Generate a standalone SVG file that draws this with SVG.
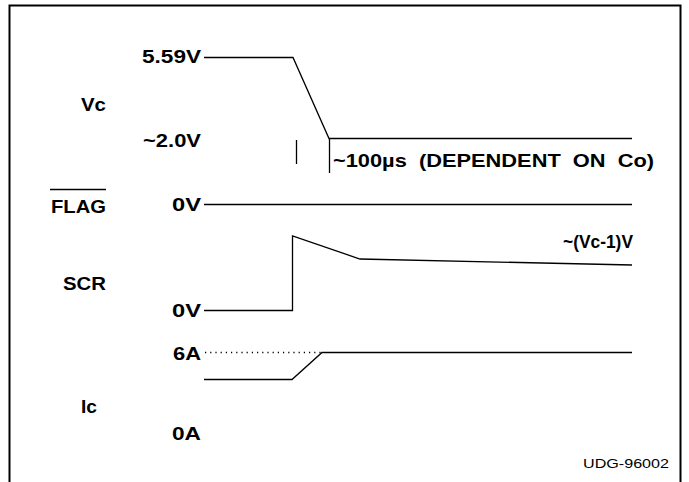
<svg xmlns="http://www.w3.org/2000/svg" width="689" height="482" viewBox="0 0 689 482">
<style>
.lbl{font-family:"Liberation Sans",Arial,sans-serif;font-weight:bold;font-size:18px;fill:#000}
.r{text-anchor:end}
.w{fill:none;stroke:#000;stroke-width:1.3}
.note{font-family:"Liberation Sans",Arial,sans-serif;font-size:13.5px;fill:#000}
</style>
<rect width="689" height="482" fill="#fff"/>
<path d="M9.5,483 V5.5 H680.5 V483" fill="none" stroke="#000" stroke-width="2"/>
<g id="labels">
<text class="lbl r" x="201" y="63" textLength="59" lengthAdjust="spacingAndGlyphs">5.59V</text>
<text class="lbl r" x="106" y="111" textLength="25" lengthAdjust="spacingAndGlyphs">Vc</text>
<text class="lbl r" x="201" y="147" textLength="58" lengthAdjust="spacingAndGlyphs">~2.0V</text>
<text class="lbl r" x="106" y="213" textLength="55" lengthAdjust="spacingAndGlyphs">FLAG</text>
<line x1="50" y1="189.5" x2="106" y2="189.5" stroke="#000" stroke-width="1.3"/>
<text class="lbl r" x="201" y="211" textLength="29" lengthAdjust="spacingAndGlyphs">0V</text>
<text class="lbl r" x="106" y="290" textLength="43" lengthAdjust="spacingAndGlyphs">SCR</text>
<text class="lbl r" x="201" y="317" textLength="29" lengthAdjust="spacingAndGlyphs">0V</text>
<text class="lbl" x="563" y="248" textLength="70" lengthAdjust="spacingAndGlyphs">~(Vc-1)V</text>
<text class="lbl r" x="201" y="360" textLength="28" lengthAdjust="spacingAndGlyphs">6A</text>
<text class="lbl r" x="97" y="413" textLength="16" lengthAdjust="spacingAndGlyphs">Ic</text>
<text class="lbl r" x="201" y="440" textLength="29" lengthAdjust="spacingAndGlyphs">0A</text>
<text class="lbl" x="333" y="167" textLength="321" lengthAdjust="spacingAndGlyphs" xml:space="preserve">~100µs  (DEPENDENT  ON  Co)</text>
<text class="note" x="583" y="468" textLength="86" lengthAdjust="spacingAndGlyphs">UDG-96002</text>
</g>
<g id="connectors">
<polyline class="w" points="204,57.5 293,57.5 329,138.5 632,138.5"/>
<line class="w" x1="296.5" y1="140" x2="296.5" y2="164"/>
<line class="w" x1="329.5" y1="139" x2="329.5" y2="173"/>
<line class="w" x1="204" y1="204.5" x2="632" y2="204.5"/>
<polyline class="w" points="204,310.5 292.5,310.5 292.5,236 360,259 632,265"/>
<line class="w" x1="205" y1="352.5" x2="321" y2="352.5" stroke-dasharray="1.2 4"/>
<polyline class="w" points="204,379.5 292,379.5 322,352.5 632,352.5"/>
</g>
</svg>
